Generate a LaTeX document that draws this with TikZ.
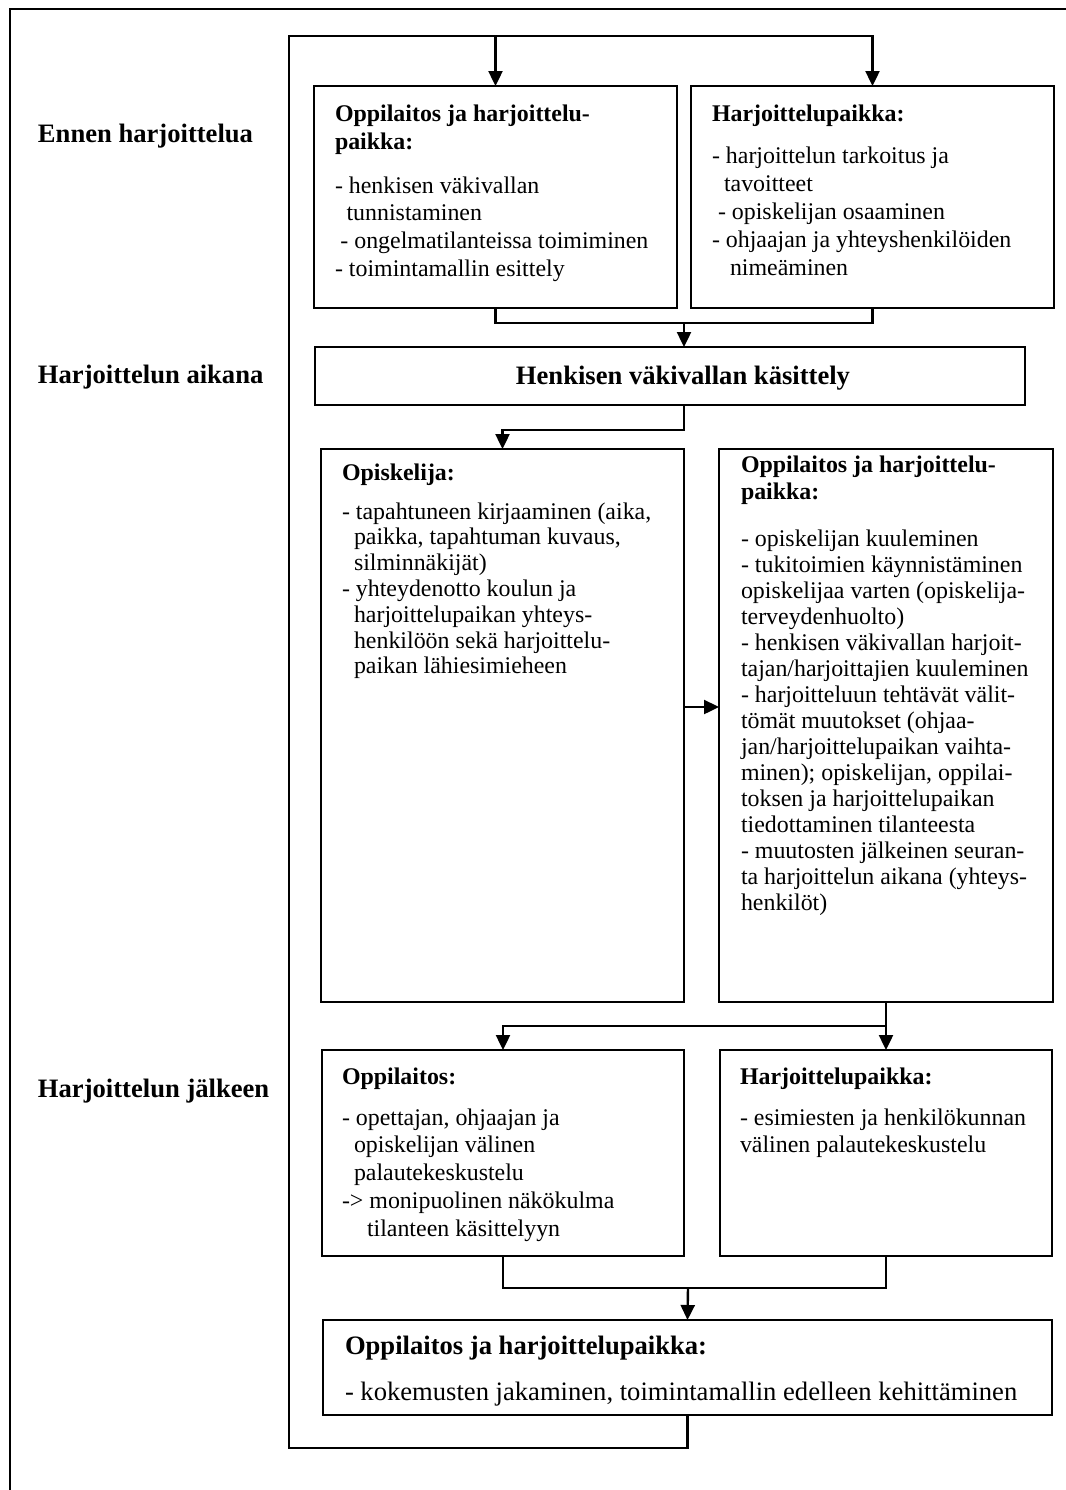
\documentclass[tikz,border=0pt]{standalone}
\usepackage{fontspec}
\setmainfont{Liberation Serif}
\usetikzlibrary{arrows.meta}
\newcommand\fb[1]{\fontsize{11.95}{#1}\selectfont}
\newcommand\fl[1]{\fontsize{13.3}{#1}\selectfont}
\newcommand\ind[1]{\hspace*{#1}}
\tikzset{
  box/.style={draw, line width=1.2pt, anchor=north west, inner sep=0pt, outer sep=0pt},
  ln/.style={line width=1.2pt},
  arr/.style={line width=1.2pt, -{Triangle[length=7.5pt,width=7pt]}},
  txt/.style={anchor=base west, inner sep=0pt, outer sep=0pt},
  frame/.style={line width=1.1pt}
}
\begin{document}
\begin{tikzpicture}[x=0.5pt,y=-0.5pt]
\useasboundingbox (0,0) rectangle (1066,1490);
% outer frame
\draw[frame] (10,1490) -- (10,9) -- (1066,9);

% left labels
\node[txt, font=\fl{16pt}\bfseries] (l1) at (38,142) {Ennen harjoittelua};
\node[txt, font=\fl{16pt}\bfseries] (l2) at (38,383) {Harjoittelun aikana};
\node[txt, font=\fl{16pt}\bfseries] (l3) at (38,1097) {Harjoittelun jälkeen};

% boxes
\node[box, minimum width=181.5pt, minimum height=111pt] (b1) at (314,86) {};
\node[box, minimum width=181.5pt, minimum height=111pt] (b2) at (691,86) {};
\node[box, minimum width=355pt, minimum height=29pt] (b3) at (315,347) {};
\node[box, minimum width=181.5pt, minimum height=276.5pt] (b4) at (321,449) {};
\node[box, minimum width=167pt, minimum height=276.5pt] (b5) at (719,449) {};
\node[box, minimum width=181pt, minimum height=103pt] (b6) at (322,1050) {};
\node[box, minimum width=166pt, minimum height=103pt] (b7) at (720,1050) {};
\node[box, minimum width=364.5pt, minimum height=47.5pt] (b8) at (323,1320) {};

% box 1 text
\node[txt, font=\fb{14.3pt}\bfseries] (t1a) at (335,121) {\begin{tabular}[t]{@{}l@{}}Oppilaitos ja harjoittelu-\\paikka:\end{tabular}};
\node[txt, font=\fb{13.85pt}] (t1b) at (335,193) {\begin{tabular}[t]{@{}l@{}}- henkisen väkivallan\\\ind{5.8pt}tunnistaminen\\\ind{2.7pt}- ongelmatilanteissa toimiminen\\- toimintamallin esittely\end{tabular}};

% box 2 text
\node[txt, font=\fb{14pt}\bfseries] (t2a) at (712,121) {Harjoittelupaikka:};
\node[txt, font=\fb{14pt}] (t2b) at (712,163) {\begin{tabular}[t]{@{}l@{}}- harjoittelun tarkoitus ja\\\ind{6pt}tavoitteet\\\ind{3pt}- opiskelijan osaaminen\\- ohjaajan ja yhteyshenkilöiden\\\ind{9pt}nimeäminen\end{tabular}};

% box 3 text
\node[anchor=base, inner sep=0pt, font=\fl{16pt}\bfseries] (t3) at (683,384) {Henkisen väkivallan käsittely};

% box 4 text
\node[txt, font=\fb{13pt}\bfseries] (t4a) at (342,480) {Opiskelija:};
\node[txt, font=\fb{12.9pt}] (t4b) at (342,519) {\begin{tabular}[t]{@{}l@{}}- tapahtuneen kirjaaminen (aika,\\\ind{6pt}paikka, tapahtuman kuvaus,\\\ind{6pt}silminnäkijät)\\- yhteydenotto koulun ja\\\ind{6pt}harjoittelupaikan yhteys-\\\ind{6pt}henkilöön sekä harjoittelu-\\\ind{6pt}paikan lähiesimieheen\end{tabular}};

% box 5 text
\node[txt, font=\fb{13.5pt}\bfseries] (t5a) at (741,472) {\begin{tabular}[t]{@{}l@{}}Oppilaitos ja harjoittelu-\\paikka:\end{tabular}};
\node[txt, font=\fb{13.03pt}] (t5b) at (741,546) {\begin{tabular}[t]{@{}l@{}}- opiskelijan kuuleminen\\- tukitoimien käynnistäminen\\opiskelijaa varten (opiskelija-\\terveydenhuolto)\\- henkisen väkivallan harjoit-\\tajan/harjoittajien kuuleminen\\- harjoitteluun tehtävät välit-\\tömät muutokset (ohjaa-\\jan/harjoittelupaikan vaihta-\\minen); opiskelijan, oppilai-\\toksen ja harjoittelupaikan\\tiedottaminen tilanteesta\\- muutosten jälkeinen seuran-\\ta harjoittelun aikana (yhteys-\\henkilöt)\end{tabular}};

% box 6 text
\node[txt, font=\fb{13.9pt}\bfseries] (t6a) at (342,1084) {Oppilaitos:};
\node[txt, font=\fb{13.9pt}] (t6b) at (342,1125) {\begin{tabular}[t]{@{}l@{}}- opettajan, ohjaajan ja\\\ind{6pt}opiskelijan välinen\\\ind{6pt}palautekeskustelu\\-> monipuolinen näkökulma\\\ind{12.5pt}tilanteen käsittelyyn\end{tabular}};

% box 7 text
\node[txt, font=\fb{13.9pt}\bfseries] (t7a) at (740,1084) {Harjoittelupaikka:};
\node[txt, font=\fb{13.9pt}] (t7b) at (740,1125) {\begin{tabular}[t]{@{}l@{}}- esimiesten ja henkilökunnan\\välinen palautekeskustelu\end{tabular}};

% box 8 text
\node[txt, font=\fl{16pt}\bfseries] (t8a) at (345,1354) {Oppilaitos ja harjoittelupaikka:};
\node[txt, font=\fl{16pt}] (t8b) at (345,1400) {- kokemusten jakaminen, toimintamallin edelleen kehittäminen};

% connectors
\coordinate (lb) at (289,1448);
\coordinate (lt) at (289,36);
\draw[arr] (b8.south) |- (lb) -- (lt) -| (b2.north);
\draw[arr] (b1.north |- lt) -- (b1.north);

\coordinate (m1) at (684,323);
\draw[ln] (b1.south) |- (m1) -| (b2.south);
\draw[arr] (m1) -- (m1 |- b3.north);

\coordinate (m2) at (684,430);
\draw[arr] (m1 |- b3.south) -- (m2) -| (b4.north);

\coordinate (m3) at (684,707);
\draw[arr] (m3) -- (m3 -| b5.west);

\coordinate (m4) at (886,1026);
\draw[ln] (b5.south) -- (m4);
\draw[arr] (m4) -- (b7.north);
\draw[arr] (m4) -| (b6.north);

\coordinate (m5) at (688,1288);
\draw[ln] (b6.south) |- (m5) -| (b7.south);
\draw[arr] (m5) -- (b8.north);
\end{tikzpicture}
\end{document}
